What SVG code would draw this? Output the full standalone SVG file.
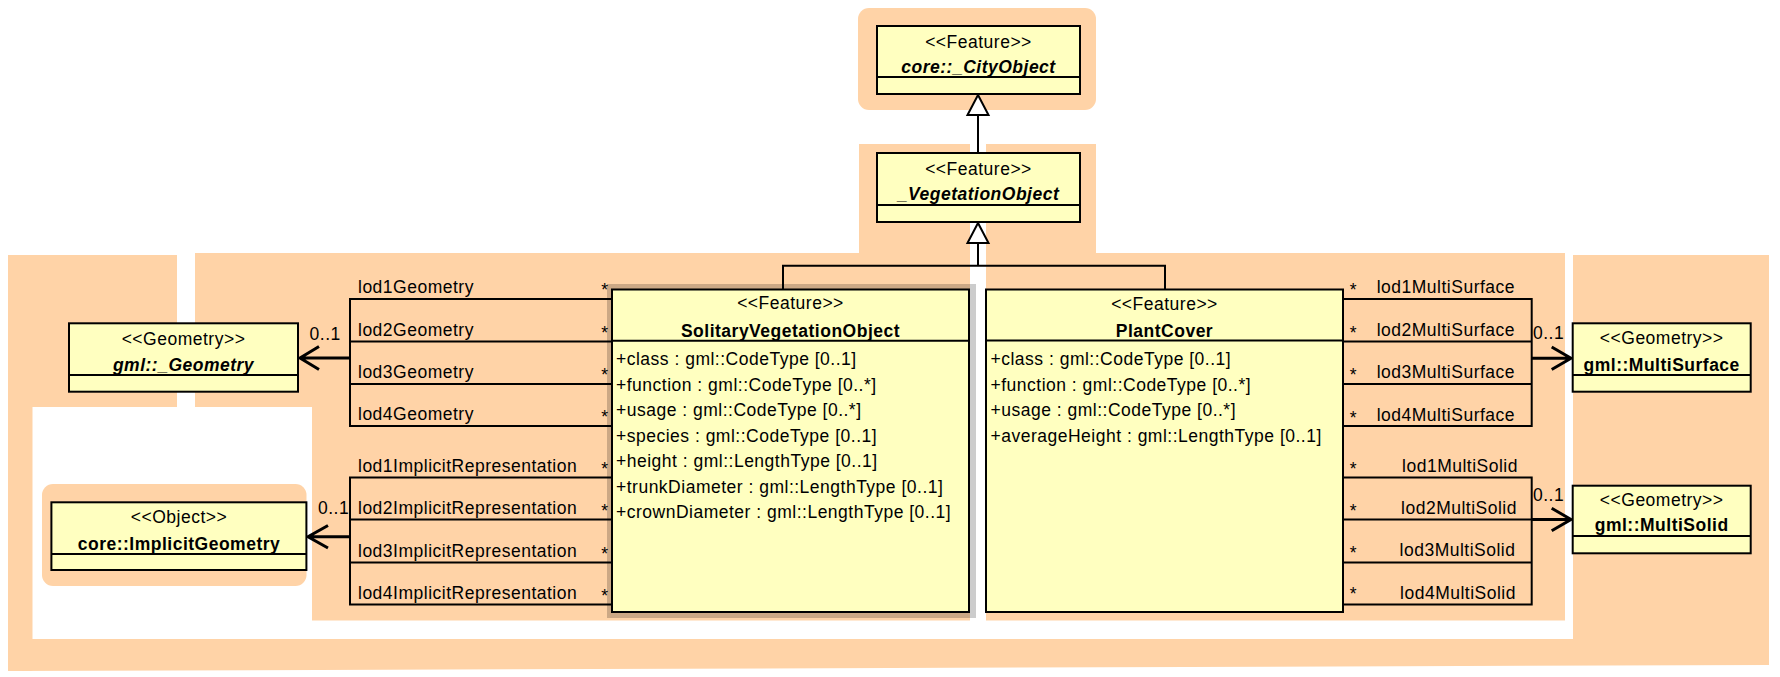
<svg xmlns="http://www.w3.org/2000/svg" width="1780" height="677" viewBox="0 0 1780 677">
<style>
text{font-family:"Liberation Sans",Arial,sans-serif;font-size:17.5px;letter-spacing:0.5px;fill:#000}
.c{text-anchor:middle}
.b{font-weight:bold}
.bi{font-weight:bold;font-style:italic}
.r{text-anchor:end}
.bg{fill:#ffd3a7}
.box{fill:#ffffc0;stroke:#000;stroke-width:2}
.ln{fill:none;stroke:#000;stroke-width:2}
.nav{fill:none;stroke:#000;stroke-width:3}
.gen{fill:#fff;stroke:#000;stroke-width:2}
</style>
<rect width="1780" height="677" fill="#fff"/>
<g id="backgrounds">
<rect class="bg" x="8" y="255" width="169" height="152"/>
<rect class="bg" x="8" y="406" width="24.5" height="265"/>
<path class="bg" d="M8 639 H1769 V665 L8 671 Z"/>
<rect class="bg" x="1573" y="255" width="196" height="410"/>
<rect class="bg" x="195" y="253" width="775" height="154"/>
<rect class="bg" x="312" y="406" width="658" height="214.5"/>
<rect class="bg" x="986" y="253" width="579" height="367.5"/>
<rect class="bg" x="859" y="144" width="111" height="109"/>
<rect class="bg" x="986" y="144" width="110" height="109"/>
<rect class="bg" x="858" y="8" width="238" height="102" rx="11"/>
<rect class="bg" x="42" y="484" width="264.5" height="102" rx="11"/>
</g>
<g id="connectors">
<line class="ln" x1="978" y1="94" x2="978" y2="153"/>
<polygon class="gen" points="978,95 967.5,115 988.5,115"/>
<polyline class="ln" points="783,289 783,265.7 1165,265.7 1165,289"/>
<line class="ln" x1="978" y1="265.7" x2="978" y2="243"/>
<polygon class="gen" points="978,223 967.5,243 988.5,243"/>
<path class="ln" d="M612 299 H350 V426 H612 M350 341.5 H612 M350 384 H612"/>
<path class="nav" d="M350 358 H300 M319 346.5 L300 358 L319 369.5"/>
<path class="ln" d="M612 477.5 H350 V604.5 H612 M350 519.5 H612 M350 562.5 H612"/>
<path class="nav" d="M350 536.7 H308 M328 525.5 L308 536.7 L328 548"/>
<path class="ln" d="M1343 299 H1531.7 V426 H1343 M1531.7 341.5 H1343 M1531.7 384 H1343"/>
<path class="nav" d="M1531.7 358.3 H1571 M1551.7 347 L1571 358.3 L1551.7 369.5"/>
<path class="ln" d="M1343 477.5 H1531.7 V604.5 H1343 M1531.7 519.5 H1343 M1531.7 562.5 H1343"/>
<path class="nav" d="M1531.7 519.5 H1571 M1551.7 508.3 L1571 519.5 L1551.7 530.8"/>
<text x="358" y="293">lod1Geometry</text>
<text x="358" y="335.5">lod2Geometry</text>
<text x="358" y="378">lod3Geometry</text>
<text x="358" y="420">lod4Geometry</text>
<text x="358" y="471.5">lod1ImplicitRepresentation</text>
<text x="358" y="513.5">lod2ImplicitRepresentation</text>
<text x="358" y="556.5">lod3ImplicitRepresentation</text>
<text x="358" y="598.5">lod4ImplicitRepresentation</text>
<g class="c">
<text x="605" y="296">*</text><text x="605" y="338.5">*</text><text x="605" y="381">*</text><text x="605" y="423">*</text>
<text x="605" y="474.5">*</text><text x="605" y="516.5">*</text><text x="605" y="559.5">*</text><text x="605" y="601.5">*</text>
<text x="1353.5" y="296">*</text><text x="1353.5" y="339">*</text><text x="1353.5" y="381">*</text><text x="1353.5" y="424">*</text>
<text x="1353.5" y="475">*</text><text x="1353.5" y="517">*</text><text x="1353.5" y="559">*</text><text x="1353.5" y="600">*</text>
</g>
<text x="1376.7" y="293">lod1MultiSurface</text>
<text x="1376.7" y="336.3">lod2MultiSurface</text>
<text x="1376.7" y="378">lod3MultiSurface</text>
<text x="1376.7" y="421.3">lod4MultiSurface</text>
<g class="r">
<text x="1518" y="472.3">lod1MultiSolid</text>
<text x="1517" y="514">lod2MultiSolid</text>
<text x="1515.5" y="555.6">lod3MultiSolid</text>
<text x="1516" y="599">lod4MultiSolid</text>
</g>
<text x="309.6" y="340">0..1</text>
<text x="318" y="513.5">0..1</text>
<text x="1533" y="339">0..1</text>
<text x="1533" y="501">0..1</text>
</g>
<g id="CityObject">
<rect class="box" x="877" y="26" width="203" height="68"/>
<line class="ln" x1="877" y1="77" x2="1080" y2="77"/>
<text class="c" x="978.5" y="48">&lt;&lt;Feature&gt;&gt;</text>
<text class="c bi" x="978.5" y="72.5">core::_CityObject</text>
</g>
<g id="VegetationObject">
<rect class="box" x="877" y="153" width="203" height="69"/>
<line class="ln" x1="877" y1="205" x2="1080" y2="205"/>
<text class="c" x="978.5" y="174.5">&lt;&lt;Feature&gt;&gt;</text>
<text class="c bi" x="978.5" y="199.5">_VegetationObject</text>
</g>
<g id="SolitaryVegetationObject">
<rect x="607" y="284" width="369" height="334" fill="#000" fill-opacity="0.2"/>
<rect class="box" x="612" y="289.5" width="357" height="322.5"/>
<line class="ln" x1="612" y1="340.7" x2="969" y2="340.7"/>
<text class="c" x="790.5" y="309">&lt;&lt;Feature&gt;&gt;</text>
<text class="c b" x="790.5" y="336.5">SolitaryVegetationObject</text>
<text x="616" y="365">+class : gml::CodeType [0..1]</text>
<text x="616" y="390.5">+function : gml::CodeType [0..*]</text>
<text x="616" y="416">+usage : gml::CodeType [0..*]</text>
<text x="616" y="441.5">+species : gml::CodeType [0..1]</text>
<text x="616" y="467">+height : gml::LengthType [0..1]</text>
<text x="616" y="492.5">+trunkDiameter : gml::LengthType [0..1]</text>
<text x="616" y="518">+crownDiameter : gml::LengthType [0..1]</text>
</g>
<g id="PlantCover">
<rect class="box" x="986" y="289.5" width="357" height="322.5"/>
<line class="ln" x1="986" y1="340.5" x2="1343" y2="340.5"/>
<text class="c" x="1164.5" y="309.5">&lt;&lt;Feature&gt;&gt;</text>
<text class="c b" x="1164.5" y="336.5">PlantCover</text>
<text x="990.5" y="365">+class : gml::CodeType [0..1]</text>
<text x="990.5" y="390.5">+function : gml::CodeType [0..*]</text>
<text x="990.5" y="416">+usage : gml::CodeType [0..*]</text>
<text x="990.5" y="441.5">+averageHeight : gml::LengthType [0..1]</text>
</g>
<g id="Geometry">
<rect class="box" x="69" y="323.3" width="229" height="68.4"/>
<line class="ln" x1="69" y1="375" x2="298" y2="375"/>
<text class="c" x="183.5" y="344.5">&lt;&lt;Geometry&gt;&gt;</text>
<text class="c bi" x="183.5" y="371">gml::_Geometry</text>
</g>
<g id="ImplicitGeometry">
<rect class="box" x="51.4" y="502.3" width="255" height="67.7"/>
<line class="ln" x1="51.4" y1="554" x2="306.4" y2="554"/>
<text class="c" x="179" y="523">&lt;&lt;Object&gt;&gt;</text>
<text class="c b" x="179" y="549.5">core::ImplicitGeometry</text>
</g>
<g id="MultiSurface">
<rect class="box" x="1572.7" y="323.3" width="178" height="68.4"/>
<line class="ln" x1="1572.7" y1="375" x2="1750.7" y2="375"/>
<text class="c" x="1661.7" y="344">&lt;&lt;Geometry&gt;&gt;</text>
<text class="c b" x="1661.7" y="370.5">gml::MultiSurface</text>
</g>
<g id="MultiSolid">
<rect class="box" x="1572.7" y="485.7" width="178" height="67.6"/>
<line class="ln" x1="1572.7" y1="536" x2="1750.7" y2="536"/>
<text class="c" x="1661.7" y="505.5">&lt;&lt;Geometry&gt;&gt;</text>
<text class="c b" x="1661.7" y="531">gml::MultiSolid</text>
</g>
</svg>
